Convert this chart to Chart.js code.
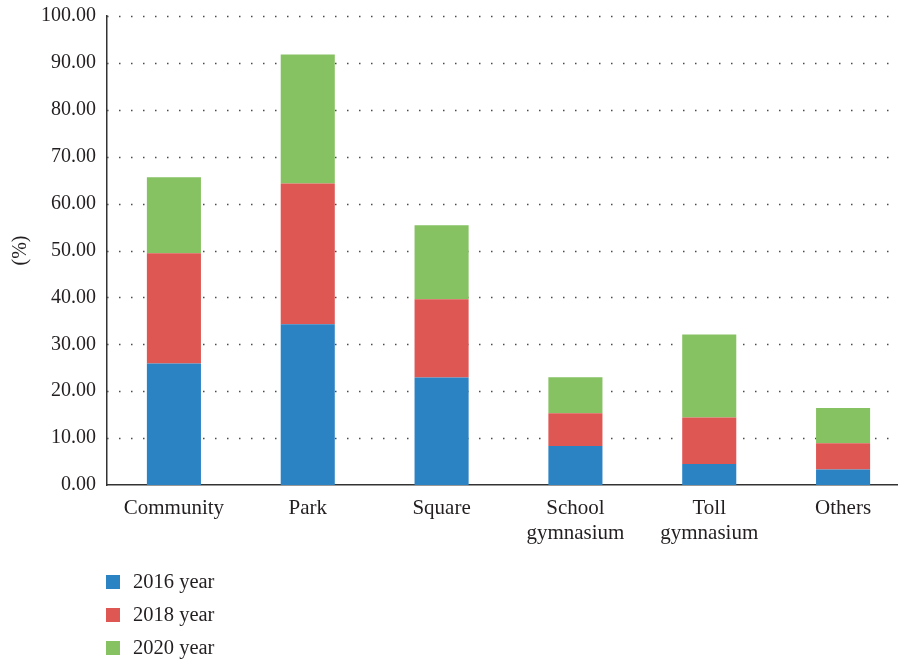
<!DOCTYPE html>
<html>
<head>
<meta charset="utf-8">
<script src="https://cdn.jsdelivr.net/npm/chart.js@4"></script>
<style>
    html, body { margin: 0; padding: 0; background: #fff; overflow: hidden; }
    #wrap { position: relative; width: 910px; height: 663px; }
    #legend { position: absolute; left: 106px; top: 565px; font-family: "Liberation Serif", "DejaVu Serif", serif; font-size: 20.5px; color: #231f20; }
    #legend div { display: flex; align-items: center; height: 33px; }
    #legend span.box { display: inline-block; width: 14px; height: 14px; margin-right: 13px; }
</style>
</head>
<body>
<div id="wrap">
    <canvas id="usageChart" width="910" height="663"></canvas>
    <div id="legend"></div>
</div>
<script>
// Places used for exercise, share of respondents (%)
const places = [['Community'], ['Park'], ['Square'], ['School', 'gymnasium'], ['Toll', 'gymnasium'], ['Others']];
const year2016 = [25.9, 34.3, 22.9, 8.3, 4.5, 3.3];
const year2018 = [23.5, 30.0, 16.7, 7.0, 9.9, 5.6];
const year2020 = [16.2, 27.5, 15.8, 7.7, 17.7, 7.5];
const seriesNames = ['2016 year', '2018 year', '2020 year'];
const seriesColors = ['#2b83c3', '#de5753', '#86c262'];

const textColor = '#231f20';
const serif = '"Liberation Serif", "DejaVu Serif", serif';

const usageChart = new Chart(document.getElementById('usageChart'), {
    type: 'bar',
    data: {
        labels: places,
        datasets: [year2016, year2018, year2020].map((values, i) => ({
            label: seriesNames[i],
            data: values,
            backgroundColor: seriesColors[i],
            borderWidth: 0,
            categoryPercentage: 1,
            barPercentage: 0.404
        }))
    },
    options: {
        responsive: false,
        animation: false,
        layout: {
            padding: { left: 0, top: 16, right: 0, bottom: 118 }
        },
        plugins: {
            legend: { display: false },
            tooltip: { enabled: false }
        },
        scales: {
            x: {
                stacked: true,
                grid: { display: false, drawTicks: false },
                border: { display: true, color: '#333', width: 1.5 },
                ticks: {
                    color: textColor,
                    padding: 11,
                    maxRotation: 0,
                    autoSkip: false,
                    font: { family: serif, size: 21, lineHeight: 1.2 }
                },
                afterFit: (scale) => {
                    scale.height = 60;
                    scale.paddingLeft = 0;
                    scale.paddingRight = 0;
                }
            },
            y: {
                stacked: true,
                min: 0,
                max: 100,
                grid: { display: false, drawTicks: false },
                border: { display: true, color: '#333', width: 1.5 },
                ticks: {
                    stepSize: 10,
                    padding: 11,
                    color: textColor,
                    font: { family: serif, size: 20 },
                    callback: (v) => v.toFixed(2)
                },
                title: {
                    display: true,
                    text: '(%)',
                    color: textColor,
                    padding: { top: 9, bottom: 0 },
                    font: { family: serif, size: 20 }
                },
                afterFit: (scale) => {
                    scale.width = 107;
                    scale.paddingTop = 0;
                    scale.paddingBottom = 0;
                }
            }
        }
    },
    plugins: [{
        // dotted horizontal gridlines, one dot every 12px
        id: 'dottedGrid',
        beforeDatasetsDraw(chart) {
            const { ctx, chartArea, scales } = chart;
            const y = scales.y;
            ctx.save();
            ctx.strokeStyle = '#4a4a4a';
            ctx.lineWidth = 1.5;
            ctx.setLineDash([1.5, 10.5]);
            y.ticks.forEach((t) => {
                if (t.value === 0) return;
                const py = Math.round(y.getPixelForValue(t.value)) + 0.5;
                ctx.beginPath();
                ctx.moveTo(chartArea.left, py);
                ctx.lineTo(chartArea.right, py);
                ctx.stroke();
            });
            ctx.restore();
        }
    }]
});

// legend listed under the chart
const legendEl = document.getElementById('legend');
usageChart.data.datasets.forEach((ds) => {
    const row = document.createElement('div');
    const box = document.createElement('span');
    box.className = 'box';
    box.style.background = ds.backgroundColor;
    row.appendChild(box);
    row.appendChild(document.createTextNode(ds.label));
    legendEl.appendChild(row);
});
</script>
</body>
</html>
